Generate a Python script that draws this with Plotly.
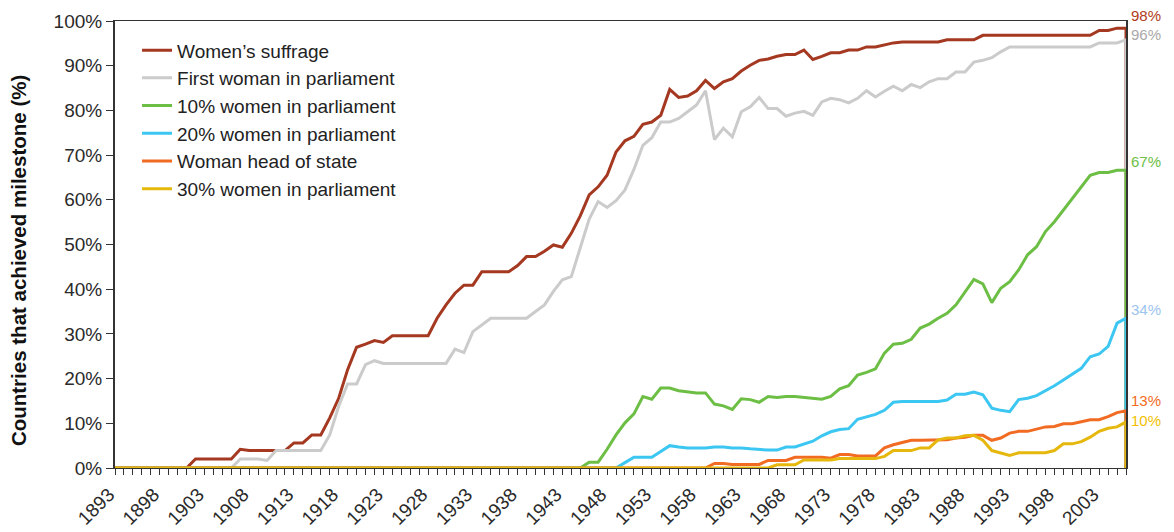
import plotly.graph_objects as go

years = list(range(1893, 2007))

suffrage = ([0.0] * 9 +
    [2.0, 2.0, 2.0, 2.0, 2.0, 4.2, 3.9, 3.9, 3.9, 3.9, 3.9, 5.6, 5.6, 7.4, 7.4,  # 1902-1916
     11.2, 15.6, 22.0, 27.0, 27.7, 28.5, 28.1, 29.6, 29.6, 29.6, 29.6, 29.6,      # 1917-1928
     33.5, 36.5, 39.1, 40.9, 40.9, 43.9, 43.9, 43.9, 43.9, 45.3, 47.3, 47.3,      # 1929-1940
     48.5, 49.9, 49.4, 52.5, 56.4, 61.1, 62.9, 65.5, 70.7, 73.2, 74.2, 76.9,      # 1941-1952
     77.4, 78.9, 84.7, 82.9, 83.2, 84.4, 86.7, 84.9, 86.4, 87.1, 88.8, 90.1,      # 1953-1964
     91.2, 91.5, 92.1, 92.5, 92.5, 93.5, 91.4, 92.1, 92.9, 92.9, 93.5, 93.5,      # 1965-1976
     94.2, 94.2, 94.6, 95.1, 95.3, 95.3, 95.3, 95.3, 95.3, 95.8, 95.8, 95.8,      # 1977-1988
     95.8, 96.8, 96.8, 96.8, 96.8, 96.8, 96.8, 96.8, 96.8, 96.8, 96.8, 96.8,      # 1989-2000
     96.8, 96.8, 97.9, 97.9, 98.4, 98.4])                                          # 2001-2006

first_woman = ([0.0] * 14 +
    [2.0, 2.0, 2.0, 1.7, 3.9, 3.9, 3.9, 3.9, 3.9, 3.9,                            # 1907-1916
     7.4, 13.8, 18.8, 18.8, 23.1, 24.0, 23.4, 23.4, 23.4, 23.4, 23.4, 23.4,      # 1917-1928
     23.4, 23.4, 26.6, 25.8, 30.5, 32.0, 33.5, 33.5, 33.5, 33.5, 33.5, 35.0,      # 1929-1940
     36.5, 39.5, 42.1, 42.8, 49.5, 55.7, 59.6, 58.3, 59.8, 62.2, 66.8, 72.2,      # 1941-1952
     73.9, 77.4, 77.4, 78.2, 79.7, 81.2, 84.4, 73.5, 76.0, 74.1, 79.7, 80.8,      # 1953-1964
     82.9, 80.4, 80.4, 78.7, 79.4, 79.8, 78.9, 81.9, 82.7, 82.4, 81.7, 82.7,      # 1965-1976
     84.4, 83.0, 84.3, 85.4, 84.4, 85.8, 85.1, 86.4, 87.1, 87.1, 88.6, 88.6,      # 1977-1988
     90.8, 91.2, 91.8, 93.1, 94.2, 94.2, 94.2, 94.2, 94.2, 94.2, 94.2, 94.2,      # 1989-2000
     94.2, 94.2, 95.1, 95.1, 95.1, 95.8])                                          # 2001-2006

women10 = ([0.0] * 53 +
    [1.3, 1.3, 4.2, 7.4, 10.1, 12.1, 16.0,                                        # 1946-1952
     15.4, 17.9, 17.9, 17.3, 17.0, 16.8, 16.8, 14.3, 13.9, 13.1, 15.5, 15.3,      # 1953-1964
     14.7, 16.0, 15.8, 16.0, 16.0, 15.8, 15.5, 15.4, 16.0, 17.7, 18.4, 20.8,      # 1965-1976
     21.4, 22.2, 25.7, 27.7, 27.9, 28.8, 31.3, 32.2, 33.5, 34.6, 36.5, 39.5,      # 1977-1988
     42.2, 41.2, 37.0, 40.2, 41.7, 44.3, 47.7, 49.5, 52.9, 55.1, 57.7, 60.3,      # 1989-2000
     62.9, 65.5, 66.1, 66.1, 66.6, 66.6])                                          # 2001-2006

women20 = ([0.0] * 57 +
    [1.2, 2.4, 2.4,                                                               # 1950-1952
     2.4, 3.7, 5.0, 4.7, 4.5, 4.5, 4.5, 4.7, 4.7, 4.5, 4.5, 4.3,                  # 1953-1964
     4.1, 4.0, 4.0, 4.7, 4.7, 5.3, 6.0, 7.2, 8.1, 8.6, 8.8, 10.9,                 # 1965-1976
     11.4, 12.0, 12.9, 14.7, 14.9, 14.9, 14.9, 14.9, 14.9, 15.2, 16.5, 16.5,      # 1977-1988
     17.0, 16.4, 13.4, 12.9, 12.6, 15.3, 15.6, 16.2, 17.3, 18.4, 19.7, 21.1,      # 1989-2000
     22.3, 24.9, 25.5, 27.2, 32.4, 33.5])                                          # 2001-2006

head_of_state = ([0.0] * 67 +
    [1.0, 1.0, 0.8, 0.8, 0.8,                                                     # 1960-1964
     0.8, 1.7, 1.7, 1.7, 2.4, 2.4, 2.4, 2.4, 2.2, 3.0, 3.0, 2.7,                  # 1965-1976
     2.7, 2.7, 4.5, 5.2, 5.7, 6.2, 6.2, 6.2, 6.2, 6.3, 6.7, 6.9,                  # 1977-1988
     7.3, 7.3, 6.2, 6.7, 7.8, 8.2, 8.2, 8.7, 9.2, 9.3, 9.9, 9.9,                  # 1989-2000
     10.4, 10.8, 10.8, 11.5, 12.4, 12.8])                                          # 2001-2006

women30 = ([0.0] * 74 +
    [0.7, 0.7,                                                                    # 1967-1968
     0.7, 1.8, 1.8, 1.8, 1.8, 2.1, 2.1, 2.1,                                      # 1969-1976
     2.1, 2.1, 2.6, 3.9, 3.9, 3.9, 4.5, 4.5, 6.3, 6.7, 6.7, 7.2,                  # 1977-1988
     7.3, 6.2, 3.9, 3.4, 2.8, 3.4, 3.4, 3.4, 3.4, 3.9, 5.4, 5.4,                  # 1989-2000
     5.9, 6.9, 8.2, 8.9, 9.2, 10.3])                                               # 2001-2006

series_names = ["Women’s suffrage", "First woman in parliament", "10% women in parliament",
                "20% women in parliament", "Woman head of state", "30% women in parliament"]
series_values = [suffrage, first_woman, women10, women20, head_of_state, women30]
line_colors = ["#A43820", "#CBCBCB", "#6CBE45", "#3CC6F2", "#F26B22", "#E6B80E"]
label_colors = ["#B03C20", "#A9A9A9", "#6CBE45", "#9CC4EE", "#F26B22", "#F2BF00"]
label_shift = [13, 5, 9, 9, 10, 1]

y_title = "Countries that achieved milestone (%)"

FONT = "Liberation Sans, Arial, Helvetica, sans-serif"

fig = go.Figure()
for name, vals, col in zip(series_names, series_values, line_colors):
    assert len(vals) == len(years), (name, len(vals))
    fig.add_trace(go.Scatter(
        x=years + [years[-1]], y=vals + [0],
        mode="lines", name=name, legendgroup=name,
        line=dict(color=col, width=3), cliponaxis=False,
        hoverinfo="skip"))

for vals, col, sh in zip(series_values, label_colors, label_shift):
    fig.add_annotation(x=years[-1], y=vals[-1], xref="x", yref="y",
                       text=f"{round(vals[-1])}%", showarrow=False,
                       xanchor="left", yanchor="middle", xshift=3, yshift=sh,
                       font=dict(family=FONT, size=15, color=col))

# y-axis title placed as rotated text, slightly below the plot centre as in the original
fig.add_annotation(x=-0.096, y=0.465, xref="paper", yref="paper",
                   text=f"<b>{y_title}</b>", textangle=-90, showarrow=False,
                   xanchor="center", yanchor="middle",
                   font=dict(family=FONT, size=20.5, color="#111"))

fig.update_layout(
    width=1174, height=532,
    margin=dict(l=115, r=48, t=21, b=64),
    paper_bgcolor="white", plot_bgcolor="white",
    font=dict(family=FONT, size=19, color="#2a2a2a"),
    showlegend=True,
    legend=dict(x=0.0218, y=0.977, xanchor="left", yanchor="top",
                bgcolor="rgba(0,0,0,0)", font=dict(size=19, color="#222"),
                tracegroupgap=0),
)
fig.update_xaxes(
    range=[1893, 2006], tickmode="linear", tick0=1893, dtick=5, automargin=False,
    tickangle=-45, ticks="outside", ticklen=6, tickwidth=1, tickcolor="#333",
    ticklabelshift=-6, ticklabelstandoff=1,
    minor=dict(dtick=1, tick0=1893, ticks="outside", ticklen=6, tickwidth=1, tickcolor="#333"),
    showgrid=False, zeroline=False, showline=True, linecolor="#333", linewidth=1,
    mirror=True, layer="below traces", tickfont=dict(size=19, color="#2a2a2a"))
fig.update_yaxes(
    range=[0, 100], tickmode="linear", tick0=0, dtick=10, ticksuffix="%", automargin=False,
    ticks="outside", ticklen=7, tickwidth=1, tickcolor="#333",
    showgrid=False, zeroline=False, showline=True, linecolor="#333", linewidth=2,
    mirror=True, layer="below traces", tickfont=dict(size=19, color="#2a2a2a"))

fig.write_html("out.html", config={"displayModeBar": False},
               post_script="document.body.style.margin='0px';document.body.style.overflow='hidden';")
